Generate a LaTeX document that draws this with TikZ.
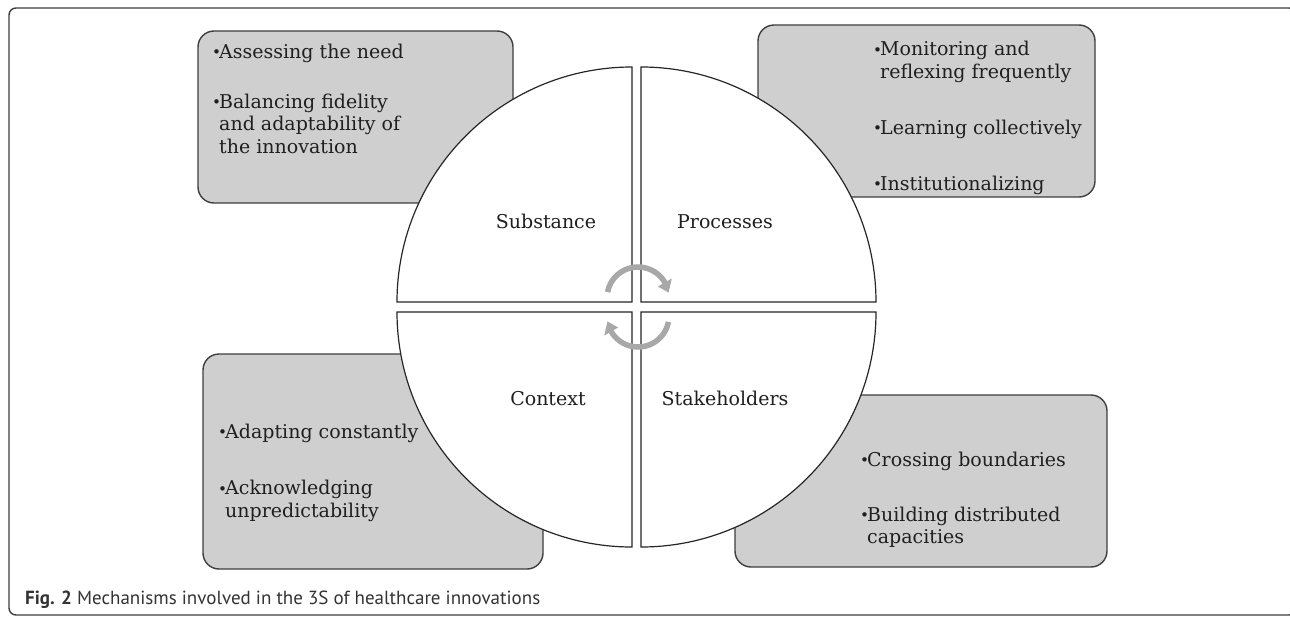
\documentclass[tikz,border=0pt]{standalone}
\usepackage{fontspec}
\setmainfont{DejaVu Serif}
\newfontfamily\capfont{PT Sans}
\definecolor{boxgray}{RGB}{207,207,207}
\definecolor{cycgray}{RGB}{168,168,168}
\definecolor{edgegray}{RGB}{62,62,62}
\newcommand{\bul}{\strut\makebox[7pt][l]{\raisebox{0.5pt}{\scalebox{0.8}{\textbullet}}}}
\newcommand{\ind}{\strut\hspace*{7pt}}

\begin{document}
\begin{tikzpicture}[x=1pt,y=-1pt,
	box/.style={draw=edgegray,fill=boxgray,line width=1.4pt,rounded corners=16pt},
	sector/.style={draw=black!85,fill=white,line width=1.2pt},
	cyc/.style={draw=cycgray,line width=5.5pt},
	item/.style={anchor=west,inner sep=0pt,align=left,text=black!88,font=\fontsize{19}{22.5}\selectfont},
	part/.style={anchor=base,inner sep=0pt,text=black!88,font=\fontsize{19}{22.5}\selectfont}]
	\useasboundingbox [clip] (0,0) rectangle (1290,616);
	\draw [edgegray, line width=1.4pt, rounded corners=7pt] (9,8) rectangle (1296,615);

	\draw [box] (198,31) rectangle (513,203);
	\draw [box] (758,25) rectangle (1095,197);
	\draw [box] (203,354) rectangle (543,569);
	\draw [box] (735,395) rectangle (1107,567);

	\draw [sector] (632,302) -- ++(180:235) arc [start angle=180, end angle=270, radius=235] -- cycle;
	\draw [sector] (641,302) -- ++(270:235) arc [start angle=270, end angle=360, radius=235] -- cycle;
	\draw [sector] (641,312) -- ++(0:235) arc [start angle=0, end angle=90, radius=235] -- cycle;
	\draw [sector] (632,312) -- ++(90:235) arc [start angle=90, end angle=180, radius=235] -- cycle;

	\begin{scope}[shift={(638,298)}]
	\draw [cyc] (191:31) arc [start angle=191, end angle=332, radius=31];
	\fill [cycgray] (330:23) -- (330:39) -- (350:31) -- cycle;
	\end{scope}
	\begin{scope}[shift={(638,316)}]
	\draw [cyc] (11:31) arc [start angle=11, end angle=152, radius=31];
	\fill [cycgray] (150:23) -- (150:39) -- (170:31) -- cycle;
	\end{scope}

	\node [part] (sub) at (546,228) {Substance};
	\node [part] (pro) at (725,228) {Processes};
	\node [part] (con) at (548,405) {Context};
	\node [part] (stk) at (725,405) {Stakeholders};

	\node [item] (tl1) at (212,53.5) {\bul Assessing the need};
	\node [item] (tl2) at (212,126) {\bul Balancing fidelity\\ \ind and adaptability of\\ \ind the innovation};
	\node [item] (tr1) at (873,62.5) {\bul Monitoring and\\ \ind reflexing frequently};
	\node [item] (tr2) at (873,129.5) {\bul Learning collectively};
	\node [item] (tr3) at (873,185.5) {\bul Institutionalizing};
	\node [item] (bl1) at (218,433.5) {\bul Adapting constantly};
	\node [item] (bl2) at (218,501.5) {\bul Acknowledging\\ \ind unpredictability};
	\node [item] (br1) at (860,461.5) {\bul Crossing boundaries};
	\node [item] (br2) at (860,528) {\bul Building distributed\\ \ind capacities};

	\node [anchor=base west, inner sep=0pt, text=black!80, font=\capfont\fontsize{19}{22}\selectfont] (cap) at (25,604) {\textbf{Fig. 2} Mechanisms involved in the 3S of healthcare innovations};
\end{tikzpicture}
\end{document}
